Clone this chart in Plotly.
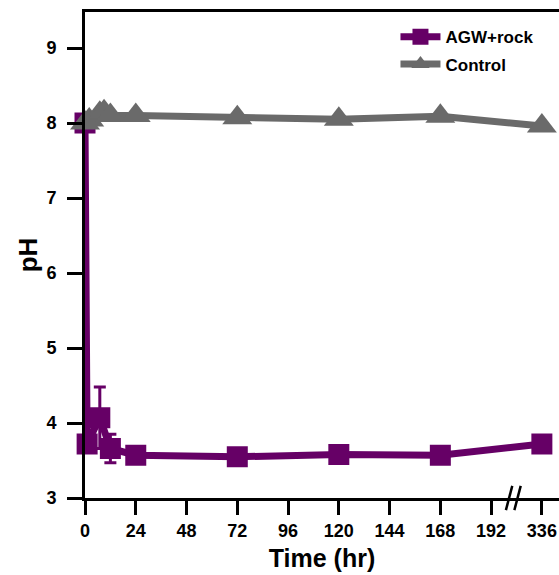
import plotly.graph_objects as go

# ---- data ----
tick_vals = [0, 24, 48, 72, 96, 120, 144, 168, 192, 216]
tick_text = ["0", "24", "48", "72", "96", "120", "144", "168", "192", "336"]

# x positions on the broken axis (336 h drawn at the slot after 192)
agw_time = [0, 1, 7, 12, 24, 72, 120, 168, 216]
agw_ph = [8.0, 3.72, 4.07, 3.66, 3.57, 3.55, 3.58, 3.57, 3.72]
agw_err = [0, 0, 0.41, 0.19, 0, 0, 0, 0, 0]

ctl_time = [0, 2, 7, 9, 12, 24, 72, 120, 168, 216]
ctl_ph = [8.0, 8.04, 8.13, 8.15, 8.1, 8.1, 8.07, 8.05, 8.09, 7.96]

PURPLE = "#660066"
GRAY = "#6a6a6a"
FONT = "Liberation Sans, Arial, sans-serif"

fig = go.Figure()
fig.add_trace(go.Scatter(
    x=agw_time, y=agw_ph, name="AGW+rock", mode="lines+markers",
    line=dict(color=PURPLE, width=7),
    marker=dict(symbol="square", size=21, color=PURPLE),
    error_y=dict(type="data", array=agw_err, visible=True, color=PURPLE,
                 thickness=3, width=6),
    cliponaxis=False, legendgroup="a",
))
fig.add_trace(go.Scatter(
    x=ctl_time, y=ctl_ph, name="Control", mode="lines+markers",
    line=dict(color=GRAY, width=7),
    marker=dict(symbol="triangle-up", size=26, color=GRAY),
    cliponaxis=False, legendgroup="b",
))

# axis break marks
for dx in (0, 4):
    fig.add_shape(type="line", xref="x", yref="paper",
                  x0=199 + dx, x1=202 + dx, y0=-0.025, y1=0.025,
                  line=dict(color="black", width=2.5))

fig.update_layout(
    width=559, height=575,
    margin=dict(l=85, r=0, t=12, b=77),
    plot_bgcolor="white", paper_bgcolor="white",
    font=dict(family=FONT, size=18, color="black", weight="bold"),
    showlegend=True,
    legend=dict(x=0.655, y=0.985, xanchor="left", yanchor="top",
                font=dict(size=17, family=FONT, weight="bold"),
                bgcolor="rgba(0,0,0,0)", tracegroupgap=2,
                itemwidth=40),
    xaxis=dict(range=[0, 224.1], tickvals=tick_vals, ticktext=tick_text,
               showline=True, linecolor="black", linewidth=3, mirror=True,
               ticks="outside", ticklen=14, tickwidth=3, tickcolor="black",
               showgrid=False, zeroline=False,
               tickfont=dict(size=18, family=FONT, weight="bold"),
               title=dict(text="Time (hr)", standoff=10,
                          font=dict(size=25, family=FONT, weight="bold"))),
    yaxis=dict(range=[3, 9.48], tickvals=[3, 4, 5, 6, 7, 8, 9],
               showline=True, linecolor="black", linewidth=3,
               ticks="outside", ticklen=15, tickwidth=3, tickcolor="black",
               ticklabelstandoff=7,
               showgrid=False, zeroline=False,
               tickfont=dict(size=18, family=FONT, weight="bold"),
               title=dict(text="pH", standoff=2,
                          font=dict(size=26, family=FONT, weight="bold"))),
)

fig.write_html(
    "out.html",
    config={"displayModeBar": False},
    post_script="document.body.style.margin='0';document.body.style.overflow='hidden';",
)
